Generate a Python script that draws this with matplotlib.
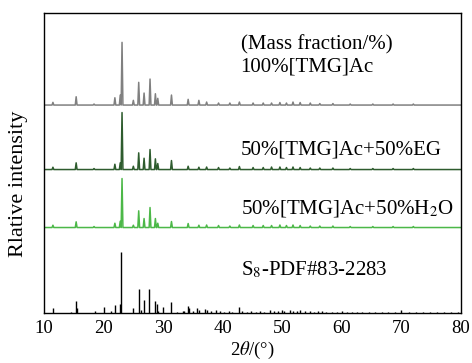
import numpy as np
import matplotlib
matplotlib.use("Agg")
from matplotlib import pyplot as plt

plt.rcParams['font.family'] = ['Liberation Serif', 'DejaVu Serif']
plt.rcParams['mathtext.fontset'] = 'stix'

# peak positions (2theta, deg) and heights
exp_pos = [11.5, 15.4, 18.4, 21.9, 22.8, 23.1, 25.0, 25.9, 26.8, 27.8, 28.7, 29.1,
           31.4, 34.2, 36.0, 37.3, 39.3, 41.2, 42.8, 45.1, 46.8, 48.2, 49.6, 50.7,
           51.8, 53.0, 54.7, 56.3, 58.5, 61.4, 65.2, 68.6, 72.0]
tmg_h = [2.7, 8.3, 1.0, 7.3, 10.0, 62.7, 4.7, 22.7, 12.0, 26.0, 11.3, 6.7,
         10.0, 5.7, 4.7, 3.0, 2.0, 2.0, 3.0, 2.0, 2.0, 2.0, 2.5, 2.0,
         3.0, 2.5, 2.0, 1.5, 1.5, 1.0, 1.0, 1.0, 1.0]
eg_h = [2.3, 6.7, 1.0, 5.3, 6.7, 57.0, 3.3, 16.7, 11.3, 20.0, 10.7, 6.0,
        9.0, 3.3, 2.3, 2.5, 2.0, 1.5, 3.0, 2.0, 2.0, 2.5, 2.5, 2.0,
        2.5, 2.0, 1.5, 1.5, 1.5, 1.0, 1.0, 1.0, 1.0]
h2o_h = [2.3, 5.7, 1.0, 4.3, 6.3, 49.0, 2.3, 16.7, 9.0, 20.0, 9.0, 4.3,
         6.0, 4.0, 2.3, 2.5, 2.0, 1.5, 2.5, 2.0, 2.0, 2.0, 2.5, 2.0,
         2.5, 2.0, 1.5, 1.5, 1.5, 1.0, 1.0, 1.0, 1.0]

pdf_pos = [11.5, 14.5, 15.4, 15.6, 18.5, 20.1, 21.2, 21.9, 22.8, 23.0, 25.0, 25.9,
           26.3, 26.8, 27.7, 28.7, 28.9, 29.2, 30.0, 31.4, 32.3, 33.3, 33.5, 34.2,
           34.4, 35.0, 35.7, 36.0, 37.0, 37.4, 38.0, 38.8, 39.5, 40.3, 41.1, 41.6,
           42.8, 43.3, 44.0, 44.8, 45.6, 46.3, 47.0, 47.9, 48.6, 49.3, 49.9, 50.3,
           51.3, 51.8, 52.5, 53.0, 53.8, 54.6, 55.3, 56.0, 56.7, 57.4, 58.3, 59.2,
           60.0, 60.8, 61.7, 62.5, 63.4, 64.5, 65.6, 66.7, 67.8, 68.9, 70.0, 71.2,
           72.4, 73.6, 74.8, 76.0, 77.2, 78.4, 79.5]
pdf_h = [5.0, 1.0, 11.7, 5.0, 1.7, 5.7, 2.3, 7.7, 9.0, 60.7, 5.0, 24.0,
         2.7, 13.3, 24.0, 12.0, 9.0, 2.3, 5.7, 10.7, 1.0, 1.7, 1.7, 6.7,
         4.7, 2.3, 5.0, 3.3, 4.0, 3.0, 2.0, 3.0, 2.0, 1.5, 2.5, 1.5,
         6.0, 2.0, 1.5, 2.0, 1.5, 2.0, 1.5, 3.0, 2.0, 2.0, 3.5, 2.5,
         3.5, 2.5, 2.0, 3.0, 2.0, 2.0, 1.5, 2.5, 2.5, 1.5, 1.5, 1.0,
         2.0, 1.5, 1.0, 1.5, 1.0, 1.0, 1.5, 1.0, 1.0, 1.0, 3.0, 1.0,
         1.0, 1.0, 1.0, 1.0, 1.0, 1.0, 1.0]

labels = ['100%[TMG]Ac', '50%[TMG]Ac+50%EG', '50%[TMG]Ac+50%H$_2$O', 'S$_8$-PDF#83-2283']
colors = ['#808080', '#2e5c2e', '#4cb848', 'black']
offsets = [208, 143.5, 85.5, 0]
label_y = [246, 163, 105, 43]


def spikes(pos, h, base, half=0.15):
    # each peak drawn as a thin triangle on the baseline
    xs = [10.0]
    ys = [base]
    for p, v in zip(pos, h):
        xs += [p - half, p, p + half]
        ys += [base, base + v, base]
    xs.append(80.0)
    ys.append(base)
    return xs, ys


fig = plt.figure(figsize=(4.72, 3.63), dpi=100)
ax = fig.add_axes([0.0932, 0.1377, 0.8835, 0.8263])

for h, c, off in zip([tmg_h, eg_h, h2o_h], colors[:3], offsets[:3]):
    xs, ys = spikes(exp_pos, h, off)
    ax.plot(xs, ys, color=c, lw=1.1)

ax.vlines(pdf_pos, 0, pdf_h, color='black', lw=1.0)

ax.text(43.0, 268, '(Mass fraction/%)', fontsize=15, va='center')
for lab, y in zip(labels, label_y):
    ax.text(43.0, y, lab, fontsize=15, va='center')

ax.set_xlim(10, 80)
ax.set_ylim(0, 300)
ax.set_xticks(range(10, 81, 10))
ax.set_yticks([])
ax.tick_params(axis='x', length=0, labelsize=13.5, pad=5)
ax.set_xlabel('2$\\mathit{\\theta}$/(°)', fontsize=13.5, labelpad=2)
ax.set_ylabel('Rlative intensity', fontsize=16, labelpad=7)
ax.yaxis.set_label_coords(-0.038, 0.43)
for s in ax.spines.values():
    s.set_linewidth(1.0)

fig.savefig('out.png', dpi=100)
